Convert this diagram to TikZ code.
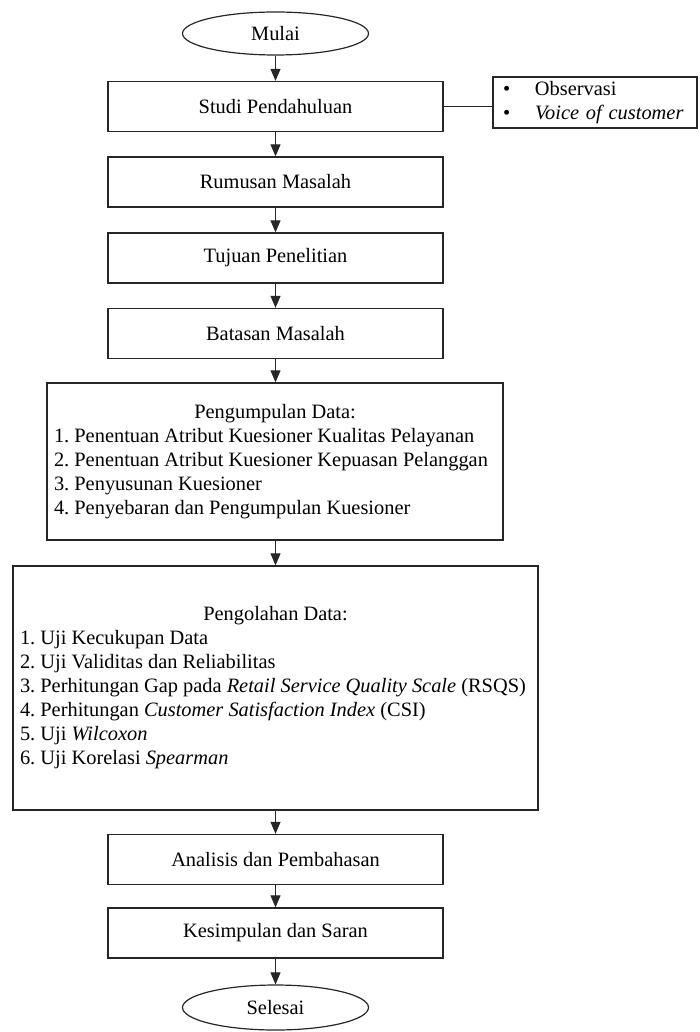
\documentclass[tikz,border=0pt]{standalone}
\usepackage{fontspec}
\setmainfont{Liberation Serif}
\usetikzlibrary{arrows.meta,shapes.geometric}
\begin{document}
\frenchspacing
\begin{tikzpicture}[x=1pt,y=-1pt,
  txt/.style={font=\fontsize{20.4}{24}\selectfont},
  stepbox/.style={draw=black!85, line width=1.3pt, minimum width=335pt, minimum height=50pt, inner sep=0pt, txt},
  bigbox/.style={draw=black!85, line width=1.3pt, inner xsep=7pt, inner ysep=0pt, align=left, txt},
  term/.style={ellipse, draw=black!85, line width=1.2pt, minimum width=186pt, minimum height=43pt, inner sep=0pt, txt},
  arr/.style={-{Triangle[width=10pt,length=12pt]}, line width=1pt, draw=black!85},
  link/.style={line width=1pt, draw=black!85}]
\useasboundingbox (0,0) rectangle (699,1032);

\node[term] (mulai) at (275.5,33.5) {Mulai};
\node[stepbox] (studi) at (275.5,106.5) {Studi Pendahuluan};
\node[draw=black!85, line width=1.2pt, minimum width=204pt, minimum height=51pt, text width=184pt, inner xsep=10pt, inner ysep=0pt, align=left, txt] (side) at (595,102.5)
  {\makebox[32pt][l]{\textbullet}Observasi\\\makebox[32pt][l]{\textbullet}\textit{Voice of customer}};
\node[stepbox] (rumusan) at (275.5,182) {Rumusan Masalah};
\node[stepbox] (tujuan) at (275.5,258) {Tujuan Penelitian};
\node[stepbox] (batasan) at (275.5,333.5) {Batasan Masalah};
\node[bigbox, minimum width=456pt, minimum height=157pt] (kumpul) at (275,461.5)
  {\makebox[442pt][c]{Pengumpulan Data:}\\
   1. Penentuan Atribut Kuesioner Kualitas Pelayanan\\
   2. Penentuan Atribut Kuesioner Kepuasan Pelanggan\\
   3. Penyusunan Kuesioner\\
   4. Penyebaran dan Pengumpulan Kuesioner};
\node[bigbox, minimum width=525pt, minimum height=244pt] (olah) at (275.5,688)
  {\makebox[511pt][c]{Pengolahan Data:}\\
   1. Uji Kecukupan Data\\
   2. Uji Validitas dan Reliabilitas\\
   3. Perhitungan Gap pada \textit{Retail Service Quality Scale} (RSQS)\\
   4. Perhitungan \textit{Customer Satisfaction Index} (CSI)\\
   5. Uji \textit{Wilcoxon}\\
   6. Uji Korelasi \textit{Spearman}};
\node[stepbox] (analisis) at (275.5,859.5) {Analisis dan Pembahasan};
\node[stepbox] (simpul) at (275.5,933) {Kesimpulan dan Saran};
\node[term, minimum height=45pt] (selesai) at (275.5,1007.5) {Selesai};

\draw[arr] (mulai) -- (studi);
\draw[arr] (studi) -- (rumusan);
\draw[arr] (rumusan) -- (tujuan);
\draw[arr] (tujuan) -- (batasan);
\draw[arr] (batasan.south) -- (batasan.south |- kumpul.north);
\draw[arr] (kumpul.south -| batasan.south) -- (olah.north -| batasan.south);
\draw[arr] (olah) -- (analisis);
\draw[arr] (analisis) -- (simpul);
\draw[arr] (simpul) -- (selesai);
\draw[link] (studi.east) -- (studi.east -| side.west);
\end{tikzpicture}
\end{document}
